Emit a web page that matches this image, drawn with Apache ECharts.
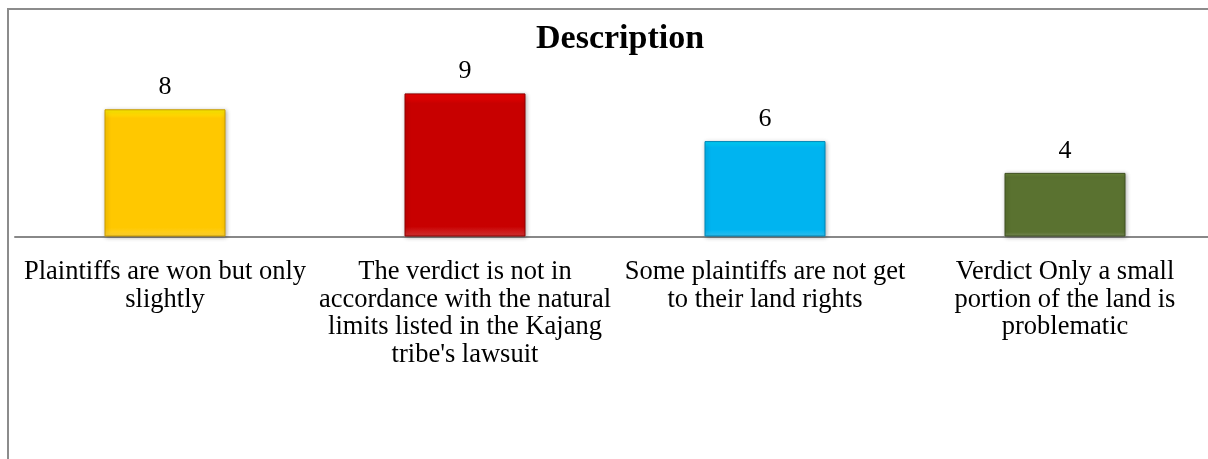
<!DOCTYPE html>
<html>
<head>
<meta charset="utf-8">
<script src="https://cdn.jsdelivr.net/npm/echarts@6/dist/echarts.min.js"></script>
<style>
html,body{margin:0;padding:0;background:#fff;overflow:hidden;width:1208px;height:459px;}
#c{width:1230px;height:459px;}
</style>
</head>
<body>
<div id="c"></div>
<script>
const titleText = 'Description';
const categories = [
  'Plaintiffs are won but only\nslightly',
  'The verdict is not in\naccordance with the natural\nlimits listed in the Kajang\ntribe\'s lawsuit',
  'Some plaintiffs are not get\nto their land rights',
  'Verdict Only a small\nportion of the land is\nproblematic'
];
const values = [8, 9, 6, 4];
const colors = ['#FFC800', '#C80000', '#00B4F0', '#5A7230'];
const borderColors = ['#C89A00', '#8E0000', '#0085B5', '#3E5020'];

const FONT = "'Liberation Serif', 'Times New Roman', serif";
const chart = echarts.init(document.getElementById('c'), null, {renderer: 'canvas'});
chart.setOption({
  backgroundColor: '#fff',
  animation: false,
  title: {
    text: titleText,
    left: 531,
    top: 17,
    textStyle: {fontFamily: FONT, fontSize: 34, fontWeight: 'bold', color: '#000'}
  },
  graphic: [{
    type: 'rect',
    shape: {x: 8, y: 9, width: 1240, height: 470},
    style: {fill: 'none', stroke: '#8c8c8c', lineWidth: 2},
    silent: true
  }],
  grid: {left: 15, width: 1200, top: 77.5, height: 159},
  xAxis: {
    type: 'category',
    data: categories,
    axisLine: {lineStyle: {color: '#888', width: 2}},
    axisTick: {show: false},
    axisLabel: {
      interval: 0,
      margin: 22,
      fontFamily: FONT,
      fontSize: 26.5,
      lineHeight: 27.5,
      color: '#000',
      align: 'center'
    }
  },
  yAxis: {
    type: 'value',
    min: 0,
    max: 10,
    show: false,
    splitLine: {show: false}
  },
  series: [{
    type: 'bar',
    barWidth: 121,
    data: values.map((v, i) => ({
      value: v,
      itemStyle: {
        color: {
          type: 'linear', x: 0, y: 0, x2: 0, y2: 1,
          colorStops: [
            {offset: 0, color: echarts.color.lift(colors[i], -0.2)},
            {offset: 0.07, color: colors[i]},
            {offset: 0.93, color: colors[i]},
            {offset: 1, color: echarts.color.lift(colors[i], 0.2)}
          ]
        },
        borderColor: borderColors[i],
        borderWidth: 1,
        shadowColor: 'rgba(0,0,0,0.3)',
        shadowBlur: 4,
        shadowOffsetX: 1,
        shadowOffsetY: 1
      }
    })),
    label: {
      show: true,
      position: 'top',
      distance: 9,
      fontFamily: FONT,
      fontSize: 26,
      color: '#000'
    }
  }]
});
</script>
</body>
</html>
